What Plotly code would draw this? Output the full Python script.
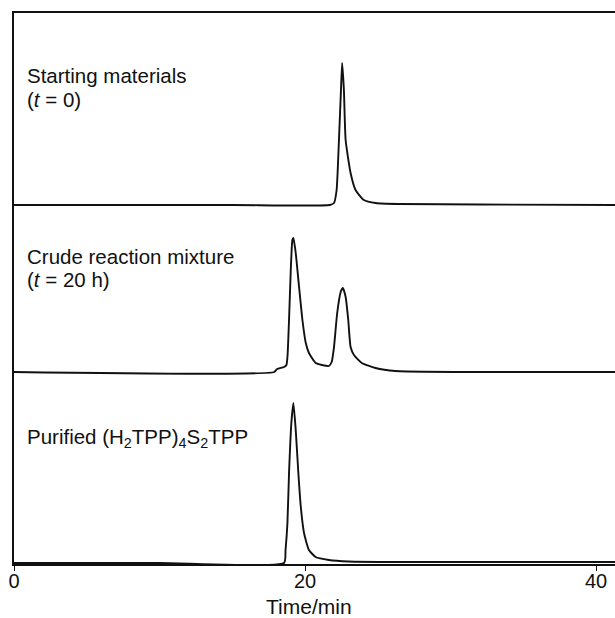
import plotly.graph_objects as go

# ---- data (time in min, detector signal in a.u.) ----
t_start = [0, 15, 21.7, 21.99, 22.17, 22.33, 22.47, 22.55, 22.67, 22.79, 23.13, 23.47, 24.04, 24.86, 26.44, 32, 41.3]
s_start = [0, 0, 0, 2, 15, 65, 115, 142, 115, 65, 32, 15, 5, 2, 1, 0.5, 0]

t_crude = [0, 17.88, 18.08, 18.56, 18.72, 18.80, 18.90, 19.02, 19.13, 19.20, 19.36, 19.59, 19.82,
           20.05, 20.27, 20.73, 21.16, 21.64, 21.83, 21.99, 22.21, 22.45, 22.60, 22.79, 22.97,
           23.13, 23.36, 23.90, 24.84, 26.21, 41.3]
s_crude = [0, 0, 3, 5, 7, 17, 52, 102, 132, 134, 119, 85, 52,
           29, 19, 9, 7, 6, 10, 25, 59, 80, 84, 75, 52,
           25, 17, 9, 4, 1, 0]

t_pure = [0, 10, 18.56, 18.66, 18.79, 18.90, 19.06, 19.20, 19.36, 19.54, 19.71, 19.93, 20.27, 20.73,
          21.64, 23.01, 26.44, 41.3]
s_pure = [0, 0, 0, 13, 40, 90, 140, 160, 133, 90, 56, 30, 13, 6, 3, 1.5, 1, 1]

offsets = [359, 192, 1]          # vertical stacking of the three traces
labels = ["Starting materials", "Crude reaction mixture", "Purified (H<sub>2</sub>TPP)<sub>4</sub>S<sub>2</sub>TPP"]
sublabels = ["(<i>t</i> = 0)", "(<i>t</i> = 20 h)", None]
x_ticks = [0, 20, 40]
x_title = "Time/min"

FONT = "Liberation Sans, Arial, Helvetica, sans-serif"
INK = "#111111"

fig = go.Figure()
for tt, ss, off in [(t_start, s_start, offsets[0]), (t_crude, s_crude, offsets[1]), (t_pure, s_pure, offsets[2])]:
    fig.add_trace(go.Scatter(x=tt, y=[v + off for v in ss], mode="lines",
                             line=dict(color=INK, width=1.9, shape="spline", smoothing=0.5),
                             showlegend=False, hoverinfo="skip"))

label_y = [489, 308, 126]
sub_y = [465, 285]
for lab, ly in zip(labels, label_y):
    fig.add_annotation(x=0.75, y=ly, xref="x", yref="y", text=lab, showarrow=False,
                       xanchor="left", yanchor="middle", font=dict(family=FONT, size=20.5, color=INK))
for lab, ly in zip(sublabels, sub_y):
    if lab:
        fig.add_annotation(x=0.75, y=ly, xref="x", yref="y", text=lab, showarrow=False,
                           xanchor="left", yanchor="middle", font=dict(family=FONT, size=20.5, color=INK))

fig.add_annotation(x=20.3, y=-0.078, xref="x", yref="paper", text=x_title, showarrow=False,
                   xanchor="center", yanchor="middle", font=dict(family=FONT, size=21, color=INK))

fig.update_layout(
    width=615, height=618,
    margin=dict(l=14, r=0, t=13, b=54),
    paper_bgcolor="white", plot_bgcolor="white",
    xaxis=dict(range=[0, 41.3], showgrid=False, zeroline=False, showline=True, linecolor=INK,
               linewidth=1.5, mirror=True, ticks="outside", ticklen=5, tickwidth=1.2, tickcolor=INK,
               tickvals=x_ticks, ticktext=[str(v) for v in x_ticks], ticklabelstandoff=-7,
               tickfont=dict(family=FONT, size=20, color=INK)),
    yaxis=dict(range=[0, 551], showgrid=False, zeroline=False, showline=True, linecolor=INK,
               linewidth=1.5, showticklabels=False, ticks=""),
)

page_css = ("document.body.style.margin='0';document.body.style.overflow='hidden';"
            "document.documentElement.style.overflow='hidden';")
fig.write_html("out.html", post_script=page_css, config={"displayModeBar": False})
